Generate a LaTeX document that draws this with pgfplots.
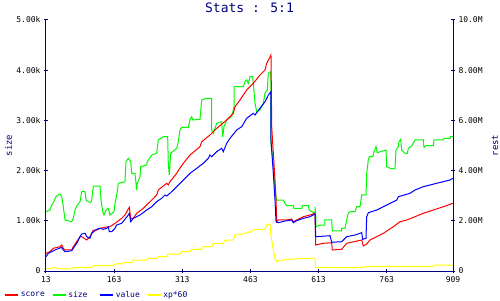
\documentclass[border=0pt]{standalone}
\usepackage{fontspec}
\setmainfont{DejaVu Sans Mono}
\usepackage{pgfplots}
\pgfplotsset{compat=1.18}
\definecolor{navyc}{RGB}{0,0,128}
\definecolor{gr}{RGB}{0,250,0}
\definecolor{ye}{RGB}{255,255,0}
\begin{document}
\begin{tikzpicture}
\pgfplotsset{
  common/.style={
    at={(0,0)}, anchor=south west,
    scale only axis, width=407pt, height=251pt,
    xmin=13, xmax=909,
    tick style={navyc, line width=1pt},
    tick align=inside, major tick length=4pt,
    /pgf/number format/assume math mode=true,
    tick label style={font=\fontsize{8}{9}\selectfont, black},
    scaled ticks=false,
    clip=false,
  }
}
\begin{axis}[common,
  axis x line=bottom, axis y line=left,
  axis line style={navyc, line width=1pt, -},
  every outer x axis line/.append style={-},
  every outer y axis line/.append style={-},
  ymin=0, ymax=5000,
  xtick={13,163,313,463,613,763,909},
  xticklabels={13,163,313,463,613,763,909},
  ytick={0,1000,2000,3000,4000,5000},
  yticklabels={0,1.00k,2.00k,3.00k,4.00k,5.00k},
  ylabel={size},
  ylabel style={at={(axis description cs:-0.092,0.5)}, anchor=center, font=\fontsize{9}{10}\selectfont, navyc},
  title={Stats : 5:1},
  title style={at={(axis description cs:0.5,1.025)}, anchor=center, font=\fontsize{13}{14}\selectfont, navyc},
]
\addplot[gr, line width=1pt, sharp plot] coordinates {
(13,1181) (21.8,1215) (25.5,1315) (29.1,1361) (35,1480) (40.1,1514) (43.8,1534) (47.6,1480) (51.1,1281) (54.8,1016)
(69.6,982) (73.1,1050) (76.8,1215) (81.9,1315) (87.9,1380) (91.6,1580) (98.9,1580) (101.1,1414) (106.1,1380) (111.4,1361)
(113.6,1414) (117.1,1693) (131.9,1693) (134.1,1414) (137.8,1181) (140.7,1116) (145.1,1215) (150.2,1249) (153.9,1116) (162.7,1181)
(164.9,1349) (170,1580) (172.2,1747) (186.9,1779) (189.1,2177) (194.2,2245) (199.5,2177) (201.7,1946) (208.9,1946) (212.7,1614)
(214,1747) (219.9,1878) (221.5,2078) (234.7,2112) (236,2177) (245.7,2311) (256.7,2345) (260.2,2610) (271.2,2675) (280.9,2675)
(282.2,2145) (284.4,1912) (287.5,2345) (300.7,2444) (304.2,2576) (308,2809) (311.7,2863) (326.3,2863) (330,3008) (333.8,3074)
(336,3008) (352,3022) (355.8,3406) (365.2,3440) (377.8,3440) (377.8,2809) (381.3,2743) (388.8,2942) (399.8,2974) (402,2675)
(404.9,2874) (410.8,3008) (421.8,3074) (426.9,3273) (426.9,3671) (447.4,3671) (451.1,3771) (454.8,3805) (458.4,3739) (462.1,3870)
(468.1,3870) (469.4,3739) (473.1,3341) (476.9,3173) (484.1,3207) (491.4,3341) (495.1,3540) (500.2,3606) (502.4,3938) (507.7,3970)
(508.3,3406) (508.3,2544) (513.4,2145) (515.6,1813) (519.4,1480) (520.9,1414) (535.4,1414) (539.2,1349) (542.9,1301) (557.4,1301)
(559,1249) (575.9,1249) (578.1,1301) (590.5,1301) (592.7,1215) (601.5,1161) (605.2,1161) (605.2,1281) (606.7,1149) (607.4,882)
(616.2,916) (627.2,916) (627.2,1016) (641.9,1016) (643.3,797) (664,797) (664,851) (671.2,851) (674.9,1016) (678.5,1149)
(682.3,1181) (693.3,1181) (697,1281) (704.3,1281) (708,1514) (717.5,1514) (719,1946) (722.6,2211) (724.8,2277) (732.2,2277)
(735.1,2376) (739.5,2476) (742.4,2357) (761.5,2410) (763.1,2078) (770.3,2046) (781.3,2032) (783.5,2410) (788.6,2476) (790.1,2576)
(793.9,2623) (796.1,2410) (803.3,2345) (808.4,2345) (810.6,2444) (818.1,2490) (825.4,2610) (843.6,2610) (845.2,2464) (849.6,2496)
(865.7,2496) (867.2,2610) (887.7,2610) (889.2,2643) (902.4,2643) (903.9,2675) (909,2675)
};
\end{axis}
\begin{axis}[common,
  axis x line=none, axis y line=right,
  axis line style={navyc, line width=1pt, -},
  every outer y axis line/.append style={-},
  ymin=0, ymax=10,
  ytick={0,2,4,6,8,10},
  yticklabels={0,2.00M,4.00M,6.00M,8.00M,10.0M},
  ylabel={rest},
  ylabel style={at={(axis description cs:1.103,0.5)}, anchor=center, font=\fontsize{9}{10}\selectfont, navyc},
  legend columns=4,
  legend style={draw=none, fill=none, inner sep=0pt, at={(axis description cs:-0.103,-0.096)}, anchor=west,
    font=\fontsize{8}{9}\selectfont, text=navyc,
    /tikz/every even column/.append style={text width=29pt, align=left, column sep=0pt},
    /tikz/every odd column/.append style={column sep=0pt}},
  legend image code/.code={\draw[#1, line width=1.5pt] (0pt,0pt) -- (13pt,0pt);},
]
\addplot[red, line width=1pt, sharp plot] coordinates {
(13,0.705) (21.8,0.769) (29.1,0.904) (43.8,0.968) (47.6,1.036) (51.1,0.904) (54.8,0.837) (69.6,0.837) (73.1,0.968) (80.6,1.167)
(87.9,1.367) (91.6,1.367) (102.6,1.235) (109.9,1.367) (117.1,1.633) (124.6,1.633) (131.9,1.701) (142.9,1.741) (153.9,1.765) (164.9,1.900)
(179.7,2.100) (186.9,2.231) (194.2,2.470) (196.4,2.538) (199.5,2.100) (205.2,2.100) (212.7,2.299) (227.2,2.498) (242,2.761) (256.7,3.028)
(260.2,3.227) (271.2,3.386) (278.7,3.494) (282.2,3.426) (285.9,3.558) (300.7,3.892) (303.6,3.984) (315.3,4.291) (330,4.622) (352,4.952)
(355.8,5.151) (374,5.418) (388.8,5.685) (410.8,6.016) (425.3,6.283) (429.1,6.546) (440.1,6.813) (454.8,7.211) (469.4,7.478) (484.1,7.809)
(495.1,8.008) (498.9,8.275) (508.3,8.606) (509.9,5.749) (512.1,5.088) (517.1,3.625) (519.4,2.829) (520.9,1.964) (524.4,2.032) (542.9,2.032)
(553.9,2.072) (557.4,1.964) (564.9,2.032) (579.5,2.163) (594.2,2.231) (605.2,2.299) (606.7,1.036) (623.5,1.104) (641.9,1.127) (643.3,0.837)
(664,0.865) (674.9,1.104) (708,1.235) (711.5,0.996) (719,1.076) (726.3,1.235) (755.6,1.502) (777.6,1.765) (792.3,1.964) (807.1,2.032)
(825.4,2.163) (843.6,2.299) (865.7,2.430) (887.7,2.562) (909,2.697)
};
\addlegendentry{score}
\addlegendimage{gr}
\addlegendentry{size}
\addplot[blue, line width=1pt, sharp plot] coordinates {
(13,0.570) (18.1,0.705) (32.8,0.837) (47.6,0.944) (51.1,0.837) (54.8,0.769) (69.6,0.809) (73.1,0.904) (80.6,1.104) (87.9,1.367)
(91.6,1.474) (98.9,1.502) (102.6,1.367) (109.9,1.303) (113.6,1.502) (124.6,1.661) (131.9,1.701) (139.1,1.661) (146.6,1.701) (150.2,1.765)
(152.4,1.566) (157.6,1.566) (164.9,1.701) (168.6,1.833) (179.7,1.900) (194.2,2.231) (196.4,2.299) (199.5,1.964) (205.2,2.100) (219.9,2.231)
(234.7,2.430) (245.7,2.562) (256.7,2.761) (267.7,2.896) (275,3.028) (278.7,2.988) (285.9,3.096) (300.7,3.359) (315.3,3.625) (330,3.892)
(344.8,4.092) (359.3,4.291) (370.3,4.490) (374,4.622) (377.8,4.554) (388.8,4.753) (399.8,4.888) (403.3,4.753) (410.8,5.088) (418.1,5.287)
(432.8,5.618) (443.8,5.749) (454.8,6.084) (469.4,6.283) (473.1,6.215) (484.1,6.482) (495.1,6.745) (502.4,7.012) (508.3,7.143) (508.3,5.219)
(513.4,3.892) (517.1,2.829) (519.4,1.964) (524.4,1.924) (539.2,1.992) (553.9,2.032) (557.4,1.924) (564.9,2.004) (579.5,2.100) (594.2,2.163)
(605.2,2.271) (606.7,1.367) (638.2,1.406) (641.9,1.143) (664,1.167) (674.9,1.367) (693.3,1.434) (708,1.526) (710.2,1.263) (717.5,1.303)
(719,2.163) (722.6,2.323) (741.1,2.430) (763.1,2.629) (785.1,2.829) (788.6,2.960) (814.4,3.096) (825.4,3.227) (843.6,3.359) (873.1,3.494)
(902.4,3.625) (909,3.693)
};
\addlegendentry{value}
\addplot[ye, line width=1pt, sharp plot] coordinates {
(13,0.080) (21.8,0.108) (32.8,0.131) (43.8,0.080) (69.6,0.080) (73.1,0.131) (113.6,0.131) (117.1,0.211) (161.2,0.211) (164.9,0.279)
(179.7,0.279) (183.2,0.331) (201.7,0.331) (205.2,0.438) (234.7,0.438) (238.2,0.506) (256.7,0.506) (260.2,0.570) (278.7,0.570) (282.2,0.677)
(308,0.677) (311.7,0.769) (330,0.769) (333.8,0.865) (355.8,0.865) (359.3,0.968) (377.8,0.968) (381.3,1.104) (403.3,1.104) (407.1,1.235)
(425.3,1.235) (429.1,1.434) (447.4,1.474) (462.1,1.566) (469.4,1.633) (476.9,1.661) (495.1,1.661) (498.9,1.833) (506.2,1.873) (507.7,1.502)
(509.9,1.235) (513.4,0.837) (517.1,0.506) (520.9,0.371) (528.2,0.438) (539.2,0.438) (542.9,0.478) (564.9,0.478) (568.4,0.506) (605.2,0.506)
(606.7,0.147) (682.3,0.131) (715.3,0.147) (719,0.187) (865.7,0.187) (869.4,0.239) (909,0.239)
};
\addlegendentry{xp*60}
\end{axis}
\pgfresetboundingbox
\path[use as bounding box] (-46pt,-29pt) rectangle (454pt,271pt);
\end{tikzpicture}
\end{document}
